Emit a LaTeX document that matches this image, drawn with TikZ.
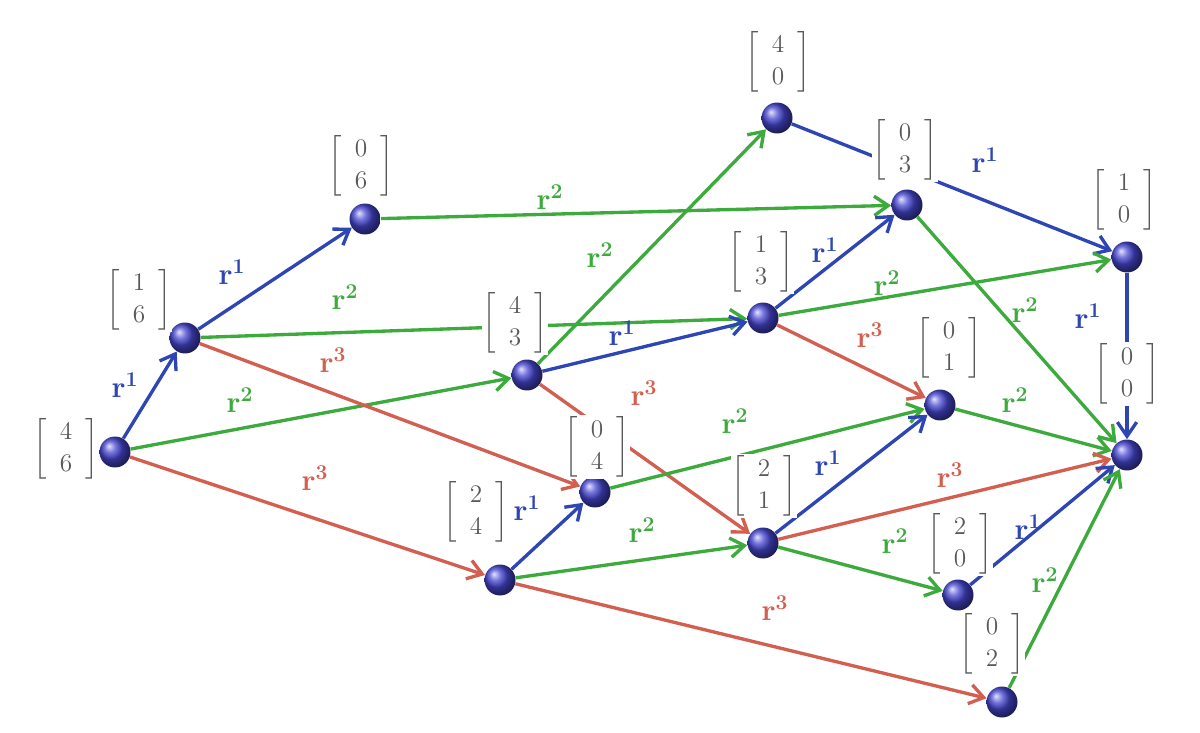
\documentclass[tikz,border=0pt]{standalone}
\usepackage{amsmath}
\usetikzlibrary{arrows.meta}

\definecolor{rblue}{RGB}{45,70,180}
\definecolor{rgreen}{RGB}{60,170,60}
\definecolor{rred}{RGB}{210,95,80}
\definecolor{ballblue}{RGB}{70,70,210}

\tikzset{
    state/.style={circle, inner sep=0pt, minimum size=0.62cm, shading=ball, ball color=ballblue},
    vec/.style={fill=white, inner sep=0pt, text=black!65, font=\Large},
    move/.style={line width=1.9pt, -{Straight Barb[length=8pt,width=11pt]}},
    e1/.style={move, rblue},
    e2/.style={move, rgreen},
    e3/.style={move, rred},
    lab/.style={font=\LARGE, inner sep=0pt},
}
\newcommand{\vv}[2]{$\left[\,\begin{array}{c}#1\\#2\end{array}\,\right]$}
\newcommand{\rr}[1]{$\mathbf{r}^{\mathbf{#1}}$}

\begin{document}
\begin{tikzpicture}[x=0.02cm, y=-0.02cm]
    \useasboundingbox (0,0) rectangle (1200,733);

    % states
    \node[state] (s46) at (115,452) {};
    \node[state] (s16) at (185,338) {};
    \node[state] (s06) at (365,219) {};
    \node[state] (s43) at (527,375) {};
    \node[state] (s40) at (777,118) {};
    \node[state] (s03) at (907,205) {};
    \node[state] (s13) at (763,318) {};
    \node[state] (s10) at (1127,257) {};
    \node[state] (s01) at (940,405) {};
    \node[state] (s00) at (1127,455) {};
    \node[state] (s04) at (595,492) {};
    \node[state] (s24) at (500,580) {};
    \node[state] (s21) at (763,543) {};
    \node[state] (s20) at (958,595) {};
    \node[state] (s02) at (1002,702) {};

    % moves
    \draw[e1] (s46) -- (s16);
    \draw[e2] (s46) -- (s43);
    \draw[e3] (s46) -- (s24);
    \draw[e1] (s16) -- (s06);
    \draw[e2] (s16) -- (s13);
    \draw[e3] (s16) -- (s04);
    \draw[e2] (s06) -- (s03);
    \draw[e2] (s43) -- (s40);
    \draw[e1] (s43) -- (s13);
    \draw[e3] (s43) -- (s21);
    \draw[e1] (s40) -- (s10);
    \draw[e2] (s03) -- (s00);
    \draw[e1] (s13) -- (s03);
    \draw[e2] (s13) -- (s10);
    \draw[e3] (s13) -- (s01);
    \draw[e1] (s10) -- (s00);
    \draw[e2] (s01) -- (s00);
    \draw[e2] (s04) -- (s01);
    \draw[e1] (s24) -- (s04);
    \draw[e2] (s24) -- (s21);
    \draw[e3] (s24) -- (s02);
    \draw[e1] (s21) -- (s01);
    \draw[e3] (s21) -- (s00);
    \draw[e2] (s21) -- (s20);
    \draw[e1] (s20) -- (s00);
    \draw[e2] (s02) -- (s00);

    % move labels
    \node[lab, text=rblue]  (m1) at (125,385) {\rr{1}};
    \node[lab, text=rgreen] (m2) at (240,400) {\rr{2}};
    \node[lab, text=rred]   (m3) at (315,478) {\rr{3}};
    \node[lab, text=rblue]  (m4) at (232,272) {\rr{1}};
    \node[lab, text=rgreen] (m5) at (345,297) {\rr{2}};
    \node[lab, text=rred]   (m6) at (333,360) {\rr{3}};
    \node[lab, text=rgreen] (m7) at (550,197) {\rr{2}};
    \node[lab, text=rgreen] (m8) at (600,255) {\rr{2}};
    \node[lab, text=rblue]  (m9) at (622,333) {\rr{1}};
    \node[lab, text=rred]   (m10) at (644,393) {\rr{3}};
    \node[lab, text=rblue]  (m11) at (985,160) {\rr{1}};
    \node[lab, text=rgreen] (m12) at (1025,310) {\rr{2}};
    \node[lab, text=rblue]  (m13) at (825,250) {\rr{1}};
    \node[lab, text=rgreen] (m14) at (887,283) {\rr{2}};
    \node[lab, text=rred]   (m15) at (870,335) {\rr{3}};
    \node[lab, text=rblue]  (m16) at (1088,316) {\rr{1}};
    \node[lab, text=rgreen] (m17) at (1015,400) {\rr{2}};
    \node[lab, text=rgreen] (m18) at (735,421) {\rr{2}};
    \node[lab, text=rblue]  (m19) at (527,508) {\rr{1}};
    \node[lab, text=rgreen] (m20) at (642,530) {\rr{2}};
    \node[lab, text=rred]   (m21) at (775,608) {\rr{3}};
    \node[lab, text=rblue]  (m22) at (828,463) {\rr{1}};
    \node[lab, text=rred]   (m23) at (950,475) {\rr{3}};
    \node[lab, text=rgreen] (m24) at (895,541) {\rr{2}};
    \node[lab, text=rblue]  (m25) at (1028,527) {\rr{1}};
    \node[lab, text=rgreen] (m26) at (1045,580) {\rr{2}};

    % state vectors
    \node[vec] (v46) at (66,449) {\vv{4}{6}};
    \node[vec] (v16) at (139,300) {\vv{1}{6}};
    \node[vec] (v06) at (361,166) {\vv{0}{6}};
    \node[vec] (v43) at (515,323) {\vv{4}{3}};
    \node[vec] (v40) at (778,62) {\vv{4}{0}};
    \node[vec] (v03) at (905,150) {\vv{0}{3}};
    \node[vec] (v13) at (761,262) {\vv{1}{3}};
    \node[vec] (v10) at (1124,200) {\vv{1}{0}};
    \node[vec] (v01) at (949,348) {\vv{0}{1}};
    \node[vec] (v00) at (1127,374) {\vv{0}{0}};
    \node[vec] (v04) at (597,447) {\vv{0}{4}};
    \node[vec] (v24) at (476,512) {\vv{2}{4}};
    \node[vec] (v21) at (764,486) {\vv{2}{1}};
    \node[vec] (v20) at (960,544) {\vv{2}{0}};
    \node[vec] (v02) at (992,644) {\vv{0}{2}};
\end{tikzpicture}
\end{document}
